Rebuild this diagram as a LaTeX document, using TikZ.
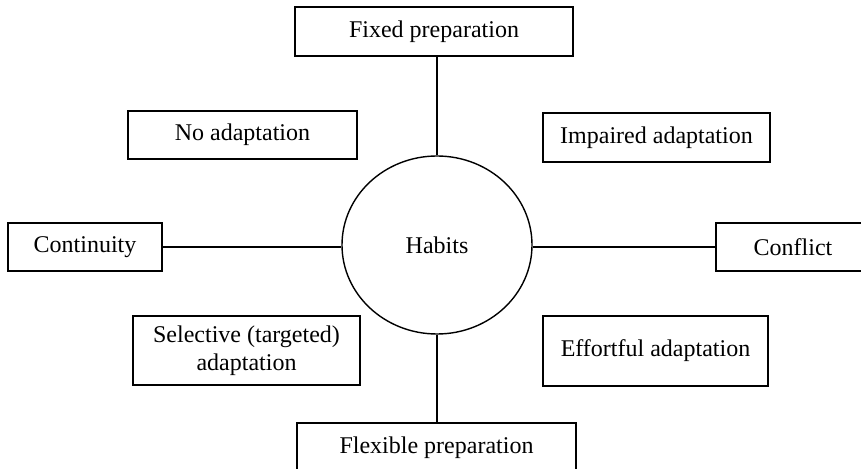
\documentclass[tikz,border=0pt]{standalone}
\usepackage{fontspec}
\setmainfont{Liberation Serif}
\usetikzlibrary{shapes.geometric}

\begin{document}
\begin{tikzpicture}[x=0.5pt,y=-0.5pt,
  every node/.style={font=\fontsize{12}{14}\selectfont},
  box/.style={draw, line width=0.7pt, rectangle, inner sep=0pt, align=center},
  hub/.style={draw, line width=0.7pt, ellipse, inner sep=0pt, minimum width=95pt, minimum height=89pt},
  link/.style={line width=0.7pt}
]
\useasboundingbox (0,0) rectangle (861,469);

% central hub
\node[hub] (habits) at (437,245) {Habits};

% poles on the two axes
\node[box, minimum width=139pt, minimum height=24.5pt] (fixed) at (434,31.5) {Fixed preparation};
\node[box, minimum width=139.5pt, minimum height=24.5pt] (flex) at (436.5,447.5) {Flexible preparation};
\node[box, minimum width=77pt, minimum height=24pt] (cont) at (85,247) {Continuity};
\node[box, minimum width=77pt, minimum height=24pt] (confl) at (793,247) {Conflict};

% quadrant labels
\node[box, minimum width=114.5pt, minimum height=24pt] (noad) at (242.5,135) {No adaptation};
\node[box, minimum width=113.5pt, minimum height=24.5pt] (impair) at (656.5,137.5) {Impaired adaptation};
\node[box, minimum width=113.5pt, minimum height=34.5pt] (select) at (246.5,350.5) {Selective (targeted)\\adaptation};
\node[box, minimum width=112.5pt, minimum height=35pt] (effort) at (655.5,351) {Effortful adaptation};

% connectors
\draw[link] (habits.north) -- (habits.north |- fixed.south);
\draw[link] (habits.south) -- (habits.south |- flex.north);
\draw[link] (cont.east) -- (cont.east -| habits.west);
\draw[link] (confl.west) -- (confl.west -| habits.east);
\end{tikzpicture}
\end{document}
